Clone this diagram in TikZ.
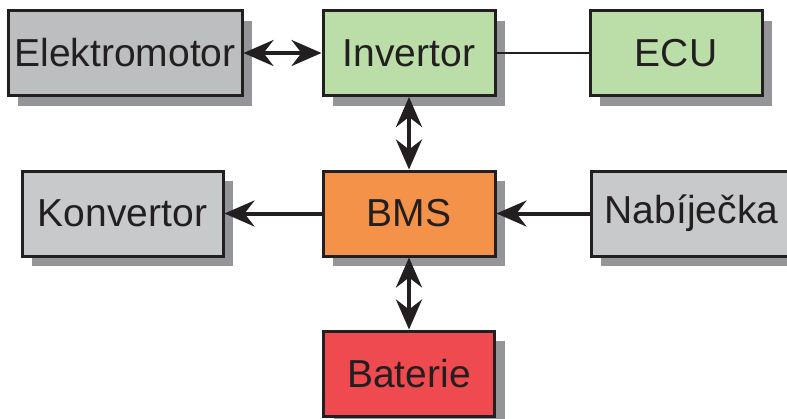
\documentclass[tikz,border=0pt]{standalone}
\usepackage{fontspec}
\setmainfont{Liberation Sans}
\usetikzlibrary{arrows.meta,shadows}

\definecolor{txtdark}{HTML}{231F20}
\definecolor{sivy}{HTML}{BCBEC0}
\definecolor{svetlesivy}{HTML}{C8C9CB}
\definecolor{stin}{HTML}{939598}
\definecolor{zeleny}{HTML}{BBDDA8}
\definecolor{oranzovy}{HTML}{F4924A}
\definecolor{cerveny}{HTML}{EF4A50}

\begin{document}
\begin{tikzpicture}[x=1pt, y=-1pt,
	every node/.style={font=\fontsize{39}{45}\selectfont, text=txtdark},
	>={Stealth[length=30pt, width=26pt, inset=10pt]},
	blok/.style={draw=txtdark, line width=3pt, minimum height=85pt, inner sep=0pt,
		drop shadow={shadow xshift=10pt, shadow yshift=-10pt, fill=stin, opacity=1}},
	spoj/.style={line width=4pt, draw=txtdark}]
	\useasboundingbox (0,0) rectangle (787,418);
	\node[blok, fill=sivy, minimum width=234pt] (motor) at (125,53) {Elektromotor};
	\node[blok, fill=zeleny, minimum width=172pt] (inv) at (409,53) {Invertor};
	\node[blok, fill=zeleny, minimum width=172pt] (ecu) at (676,53) {ECU};
	\node[blok, fill=svetlesivy, minimum width=201pt] (konv) at (122.5,213.5) {Konvertor};
	\node[blok, fill=oranzovy, minimum width=172pt] (bms) at (409,213.5) {BMS};
	\node[blok, fill=svetlesivy, minimum width=201pt] (nab) at (691.5,213.5) {Nabíječka};
	\node[blok, fill=cerveny, minimum width=171pt] (bat) at (409,373.5) {Baterie};
	\draw[spoj, <->] (motor) -- (inv);
	\draw[line width=1.2pt, txtdark] (inv) -- (ecu);
	\draw[spoj, <->] (inv) -- (bms);
	\draw[spoj, <->] (bms) -- (bat);
	\draw[spoj, ->] (bms) -- (konv);
	\draw[spoj, ->] (nab) -- (bms);
\end{tikzpicture}
\end{document}
